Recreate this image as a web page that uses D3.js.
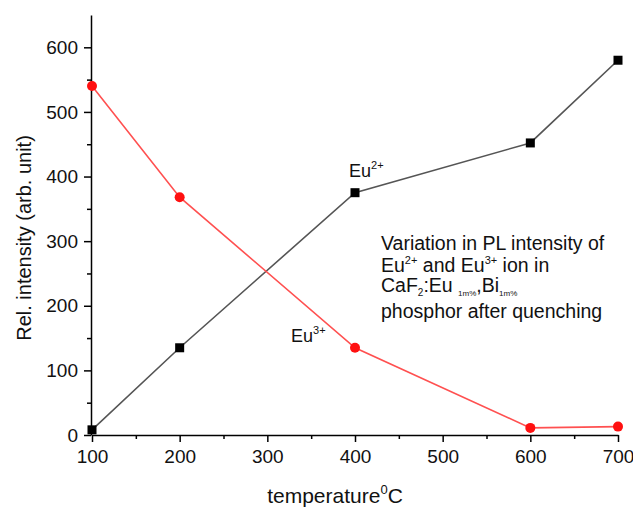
<!DOCTYPE html>
<html>
<head>
<meta charset="utf-8">
<script src="https://cdn.jsdelivr.net/npm/d3@7"></script>
<style>
  body { margin: 0; background: #fff; }
  text { font-family: Arial, "Liberation Sans", sans-serif; fill: #111; }
</style>
</head>
<body>
<div id="chart"></div>
<script>
var temps = [100, 200, 400, 600, 700];
var eu2 = [8, 135, 375, 452, 580];
var eu3 = [540, 368, 135, 11, 13];
var xTicks = [100, 200, 300, 400, 500, 600, 700];
var xMinor = [150, 250, 350, 450, 550, 650];
var yTicks = [0, 100, 200, 300, 400, 500, 600];
var yMinor = [50, 150, 250, 350, 450, 550];

var width = 633, height = 508;

var svg = d3.select("#chart").append("svg")
    .attr("width", width)
    .attr("height", height);

var x = d3.scaleLinear().domain([100, 700]).range([92, 618]);
var y = d3.scaleLinear().domain([0, 650]).range([435, 15]);

// minor ticks first, majors on top
svg.append("g")
    .attr("transform", "translate(0,435)")
    .call(d3.axisBottom(x).tickValues(xMinor).tickSize(4).tickFormat(""))
    .call((g) => g.select(".domain").remove());
svg.append("g")
    .attr("transform", "translate(91,0)")
    .call(d3.axisLeft(y).tickValues(yMinor).tickSize(4).tickFormat(""))
    .call((g) => g.select(".domain").remove());

svg.append("g")
    .attr("transform", "translate(0,435)")
    .call(d3.axisBottom(x).tickValues(xTicks).tickSize(7).tickSizeOuter(0).tickPadding(8));
svg.append("g")
    .attr("transform", "translate(91,0)")
    .call(d3.axisLeft(y).tickValues(yTicks).tickSize(7).tickSizeOuter(0).tickPadding(6));

svg.selectAll(".tick line").attr("stroke", "#000").attr("stroke-width", 1.5);
svg.selectAll(".domain").attr("stroke", "#000").attr("stroke-width", 1.5);
svg.selectAll(".tick text")
    .style("font-size", "19px")
    .style("font-family", "Arial, 'Liberation Sans', sans-serif")
    .attr("fill", "#111");

// series
var line = (vals) => d3.line()
    .x((d, i) => x(temps[i]))
    .y((d) => y(d))(vals);

svg.append("path")
    .attr("d", line(eu2))
    .attr("fill", "none")
    .attr("stroke", "#555")
    .attr("stroke-width", 1.6);

svg.append("path")
    .attr("d", line(eu3))
    .attr("fill", "none")
    .attr("stroke", "#ff5050")
    .attr("stroke-width", 1.6);

var sq = 9;
svg.selectAll(".sq")
    .data(eu2)
    .enter()
    .append("rect")
    .attr("x", (d, i) => x(temps[i]) - sq / 2)
    .attr("y", (d) => y(d) - sq / 2)
    .attr("width", sq)
    .attr("height", sq)
    .attr("fill", "#000");

svg.selectAll(".dot")
    .data(eu3)
    .enter()
    .append("circle")
    .attr("cx", (d, i) => x(temps[i]))
    .attr("cy", (d) => y(d))
    .attr("r", 5)
    .attr("fill", "#ff1010");

// axis titles
svg.append("text")
    .attr("transform", "translate(31,238) rotate(-90)")
    .attr("text-anchor", "middle")
    .style("font-size", "20px")
    .text("Rel. intensity (arb. unit)");

var xt = svg.append("text")
    .attr("x", 335)
    .attr("y", 503)
    .attr("text-anchor", "middle")
    .style("font-size", "21px");
xt.append("tspan").text("temperature");
xt.append("tspan").attr("dy", -9).style("font-size", "13px").text("0");
xt.append("tspan").attr("dy", 9).text("C");

// series labels
function ionLabel(px, py, charge) {
    var t = svg.append("text")
        .attr("x", px)
        .attr("y", py)
        .style("font-size", "18px");
    t.append("tspan").text("Eu");
    t.append("tspan").attr("dy", -8).style("font-size", "11px").text(charge);
    return t;
}
ionLabel(349, 177, "2+");
ionLabel(291, 342, "3+");

// note block
var nx = 381;
var fs = "19.5px";
svg.append("text").attr("x", nx).attr("y", 250).style("font-size", fs)
    .text("Variation in PL intensity of");

var l2 = svg.append("text").attr("x", nx).attr("y", 272).style("font-size", fs);
l2.append("tspan").text("Eu");
l2.append("tspan").attr("dy", -8).style("font-size", "11px").text("2+");
l2.append("tspan").attr("dy", 8).text(" and Eu");
l2.append("tspan").attr("dy", -8).style("font-size", "11px").text("3+");
l2.append("tspan").attr("dy", 8).text(" ion in");

var l3 = svg.append("text").attr("x", nx).attr("y", 292).style("font-size", fs);
l3.append("tspan").text("CaF");
l3.append("tspan").attr("dy", 4).style("font-size", "10px").text("2");
l3.append("tspan").attr("dy", -4).text(":Eu ");
l3.append("tspan").attr("dy", 4).style("font-size", "8px").text("1m%");
l3.append("tspan").attr("dy", -4).text(",Bi");
l3.append("tspan").attr("dy", 4).style("font-size", "8px").text("1m%");

svg.append("text").attr("x", nx).attr("y", 318).style("font-size", fs)
    .text("phosphor after quenching");
</script>
</body>
</html>
